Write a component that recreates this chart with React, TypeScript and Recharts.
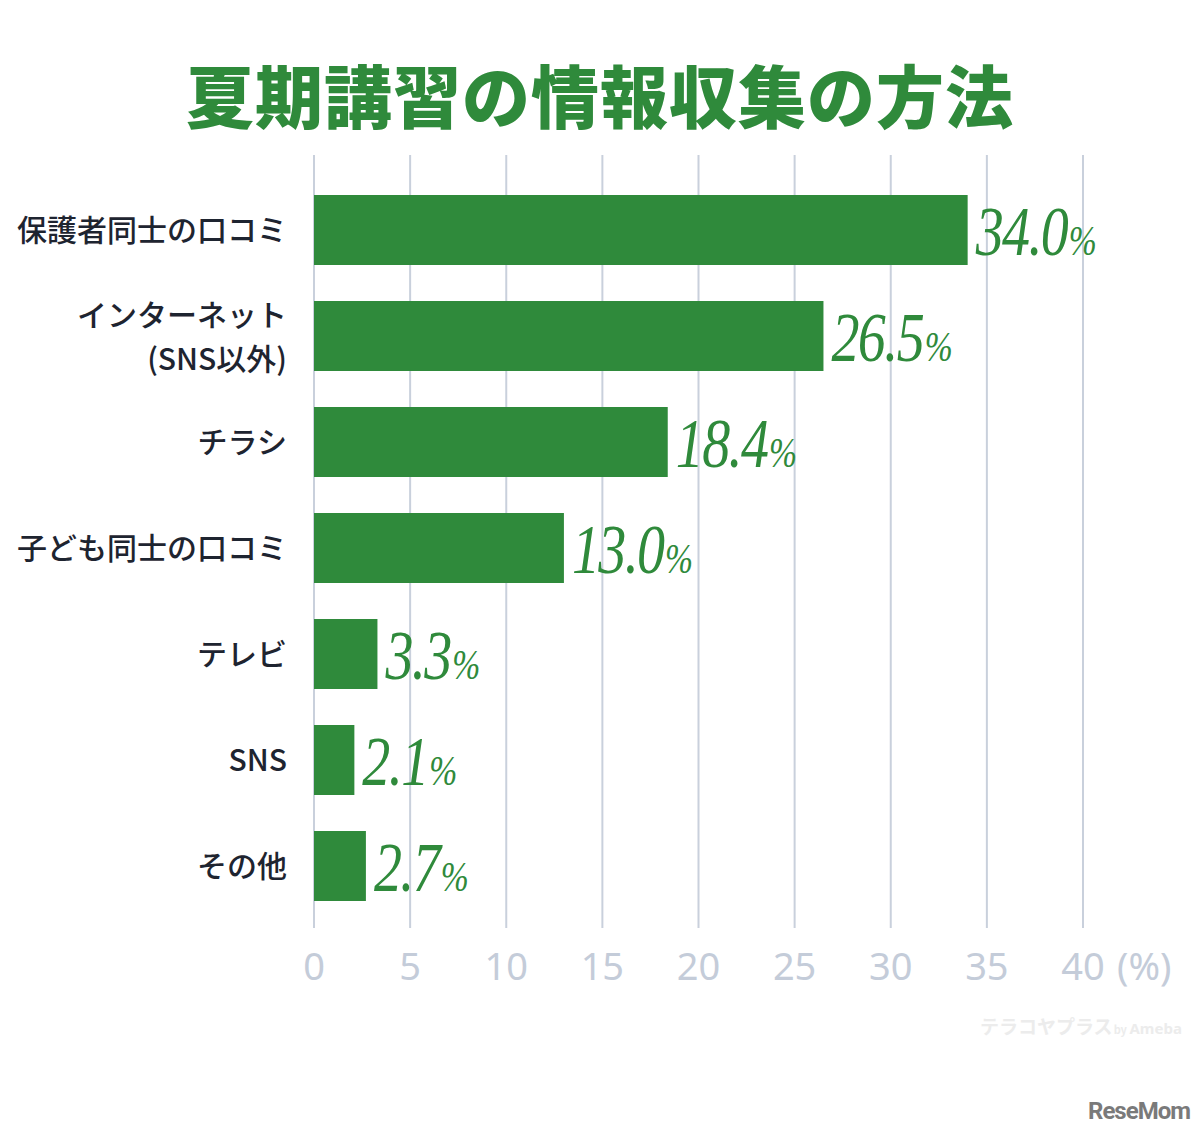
import React from 'react';
import { BarChart, Bar, XAxis, YAxis, CartesianGrid, LabelList } from 'recharts';

const categories = ['保護者同士の口コミ', 'インターネット\n(SNS以外)', 'チラシ', '子ども同士の口コミ', 'テレビ', 'SNS', 'その他'];
const values = [34.0, 26.5, 18.4, 13.0, 3.3, 2.1, 2.7];
const xTicks = [0, 5, 10, 15, 20, 25, 30, 35, 40];
const titleText = '夏期講習の情報収集の方法';
const unitText = '(%)';

const data = categories.map((name, i) => ({ name, value: values[i] }));

const GREEN = '#2f8a3b';
const GRID = '#c9d0dc';
const TICK = '#c4ccd9';
const DARK = '#1e2430';

const YTick = (props: any) => {
  const { x, y, payload } = props;
  const lines = String(payload.value).split('\n');
  const fs = 30;
  if (lines.length === 1) {
    return (
      <text x={x} y={y + 11} textAnchor="end" fill={DARK} fontSize={fs} fontFamily="'Noto Sans CJK JP', 'Noto Sans', sans-serif" fontWeight={500}>
        {lines[0]}
      </text>
    );
  }
  return (
    <text textAnchor="end" fill={DARK} fontSize={fs} fontFamily="'Noto Sans CJK JP', 'Noto Sans', sans-serif" fontWeight={500}>
      <tspan x={x} y={y - 21 + 11}>{lines[0]}</tspan>
      <tspan x={x} y={y + 23 + 11}>{lines[1]}</tspan>
    </text>
  );
};

const XTick = (props: any) => {
  const { x, y, payload } = props;
  return (
    <g>
      <text x={x} y={y + 52} textAnchor="middle" fill={TICK} fontSize={38} fontFamily="'Noto Sans', sans-serif" fontWeight={400}>
        {payload.value}
      </text>
      {payload.value === 40 ? (
        <text x={x + 34} y={y + 52} textAnchor="start" fill={TICK} fontSize={38} fontFamily="'Noto Sans', sans-serif" fontWeight={400}>
          {unitText}
        </text>
      ) : null}
    </g>
  );
};

const ValueLabel = (props: any) => {
  const { x, y, width, height, value } = props;
  const tx = Number(x) + Number(width) + 8;
  const ty = Number(y) + Number(height) / 2 + 25;
  return (
    <text transform={`translate(${tx},${ty}) scale(0.8,1)`} x={0} y={0} fill={GREEN} fontFamily="'Liberation Serif', 'DejaVu Serif', serif" fontStyle="italic" fontSize={70} letterSpacing={-2}>
      {Number(value).toFixed(1)}
      <tspan fontSize={42} dx={2}>%</tspan>
    </text>
  );
};

export default function App() {
  return (
    <div style={{ position: 'absolute', left: 0, top: 0, width: 1200, height: 1134, background: '#fff', overflow: 'hidden' }}>
      <div
        style={{
          position: 'absolute',
          left: 0,
          top: 55,
          width: 1200,
          textAlign: 'center',
          fontFamily: "'Noto Sans CJK JP', sans-serif",
          fontWeight: 900,
          fontSize: 68,
          lineHeight: '78px',
          color: GREEN,
          letterSpacing: 1,
        }}
      >
        {titleText}
      </div>
      <BarChart width={1200} height={1134} data={data} layout="vertical" margin={{ top: 155, right: 117, bottom: 146, left: 0 }}>
        <CartesianGrid horizontal={false} vertical={true} stroke={GRID} strokeWidth={2} />
        <XAxis
          type="number"
          domain={[0, 40]}
          ticks={xTicks}
          axisLine={false}
          tickLine={false}
          tickSize={0}
          tickMargin={0}
          height={60}
          interval={0}
          tick={<XTick />}
        />
        <YAxis
          type="category"
          dataKey="name"
          width={314}
          axisLine={false}
          tickLine={false}
          tickSize={0}
          tickMargin={27}
          padding={{ top: 22, bottom: 9 }}
          interval={0}
          tick={<YTick />}
        />
        <Bar dataKey="value" fill={GREEN} barSize={70} isAnimationActive={false}>
          <LabelList dataKey="value" content={<ValueLabel />} />
        </Bar>
      </BarChart>
      <div
        style={{
          position: 'absolute',
          left: 980,
          top: 1011,
          fontFamily: "'Noto Sans CJK JP', sans-serif",
          fontWeight: 700,
          fontSize: 19,
          color: '#ececec',
          whiteSpace: 'nowrap',
          lineHeight: '30px',
        }}
      >
        テラコヤプラス<span style={{ fontSize: 11, marginLeft: 1 }}>by </span>
        <span style={{ fontSize: 15, fontFamily: "'Noto Sans', sans-serif" }}>Ameba</span>
      </div>
      <div
        style={{
          position: 'absolute',
          left: 1088,
          top: 1096,
          fontFamily: "'Roboto', 'Noto Sans', sans-serif",
          fontWeight: 700,
          fontSize: 24,
          color: '#7a7a7a',
          whiteSpace: 'nowrap',
          lineHeight: '30px',
          letterSpacing: -1,
        }}
      >
        ReseMom
      </div>
    </div>
  );
}
